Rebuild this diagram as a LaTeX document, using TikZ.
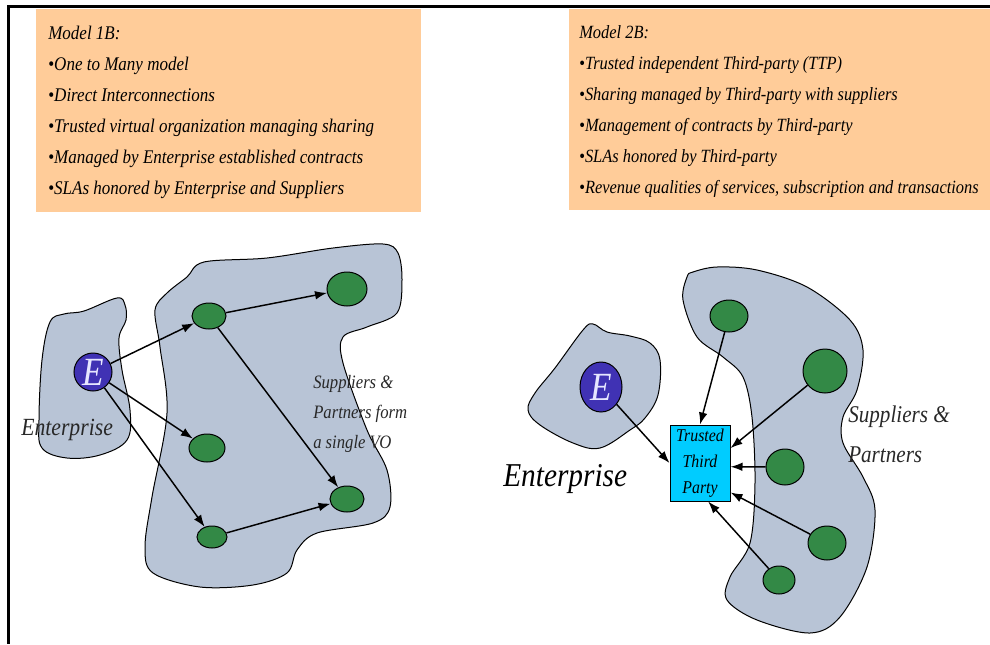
\documentclass[tikz,border=0pt]{standalone}
\usepackage{fontspec}
\setmainfont{Liberation Serif}[FakeStretch=0.88]
\usetikzlibrary{shapes.geometric,arrows.meta}

\begin{document}
\begin{tikzpicture}[x=0.75pt,y=0.75pt,yscale=-1,xscale=1,
  notebox/.style={fill={rgb, 255:red, 255; green, 204; blue, 153 }},
  notetext/.style={anchor=north west, inner sep=0pt, align=left, font=\fontsize{14.5}{23.25}\selectfont\itshape},
  blob/.style={draw, line width=0.75pt, fill={rgb, 255:red, 184; green, 196; blue, 214 }},
  member/.style={ellipse, draw, line width=0.75pt, fill={rgb, 255:red, 51; green, 137; blue, 70 }, inner sep=0pt},
  entnode/.style={ellipse, draw, line width=0.75pt, fill={rgb, 255:red, 64; green, 50; blue, 180 }, inner sep=0pt,
    text={rgb, 255:red, 230; green, 230; blue, 255 }, font=\fontsize{30}{30}\selectfont\itshape},
  ttpbox/.style={rectangle, draw, line width=0.75pt, fill={rgb, 255:red, 0; green, 204; blue, 255 }, inner sep=0pt,
    minimum width=45pt, minimum height=57pt, align=center, font=\fontsize{13.5}{19.5}\selectfont\itshape},
  grouptext/.style={anchor=base west, inner sep=0pt, align=left, text={rgb, 255:red, 40; green, 40; blue, 40 }},
  linkarrow/.style={line width=1.1pt, -{Latex[length=9pt,width=6.5pt]}}
]
        \useasboundingbox (0,0) rectangle (990,644);

        %Shape: Frame lines
        \draw [line width=2pt] (990,6.5) -- (8.7,6.5) -- (8.7,644) ;

        %Shape: Rectangle (notes)
        \fill [notebox] (36,9) rectangle (421,212) ;
        \fill [notebox] (569,9) rectangle (990,210) ;

        % Text Node
        \node [notetext] (note1) at (48,26) {Model 1B:\\
          {\upshape\textbullet}One to Many model\\
          {\upshape\textbullet}Direct Interconnections\\
          {\upshape\textbullet}Trusted virtual organization managing sharing\\
          {\upshape\textbullet}Managed by Enterprise established contracts\\
          {\upshape\textbullet}SLAs honored by Enterprise and Suppliers};
        % Text Node
        \node [notetext, font=\fontsize{14}{23.25}\selectfont\itshape] (note2) at (579,25) {Model 2B:\\
          {\upshape\textbullet}Trusted independent Third-party (TTP)\\
          {\upshape\textbullet}Sharing managed by Third-party with suppliers\\
          {\upshape\textbullet}Management of contracts by Third-party\\
          {\upshape\textbullet}SLAs honored by Third-party\\
          {\upshape\textbullet}Revenue qualities of services, subscription and transactions};

        %Shape: Blob (enterprise, model 1B)
        \draw [blob] plot [smooth cycle, tension=0.6] coordinates {(50,322) (64,314) (84,311) (117,298) (125,305) (126,320) (119,338) (122,370) (130,410) (127,440) (100,455) (67,458) (42,448) (39,420) (42,360)} ;
        %Shape: Blob (suppliers, model 1B)
        \draw [blob] plot [smooth cycle, tension=0.55] coordinates {(204,262) (267,258) (333,248) (383,244) (398,253) (402,280) (397,313) (367,327) (343,337) (343,363) (367,430) (387,470) (390,507) (373,523) (317,533) (297,550) (287,573) (253,585) (200,587) (153,573) (145,547) (152,497) (167,413) (160,347) (155,310) (167,293) (187,277)} ;

        %Shape: Blob (enterprise, model 2B)
        \draw [blob] plot [smooth cycle, tension=0.6] coordinates {(583,330) (593,324) (607,332) (630,336) (650,343) (660,360) (658,395) (645,418) (630,430) (600,448) (573,443) (540,425) (528,410) (535,393) (555,368)} ;
        %Shape: Blob (suppliers, model 2B)
        \draw [blob] plot [smooth cycle, tension=0.55] coordinates {(687,277) (683,300) (697,337) (723,357) (743,377) (752,417) (755,483) (750,543) (730,577) (727,600) (757,620) (810,633) (840,617) (867,567) (875,510) (863,477) (843,443) (843,417) (857,390) (863,350) (850,320) (807,287) (757,270) (717,267) (693,272)} ;

        %Shape: Ellipse (model 1B)
        \node [entnode, minimum width=28.5pt, minimum height=28.5pt] (ent1) at (93,372) {E};
        \node [member, minimum width=25.5pt, minimum height=19.5pt] (a1) at (209,316) {};
        \node [member, minimum width=30pt, minimum height=25.5pt] (a2) at (347,289) {};
        \node [member, minimum width=27pt, minimum height=21pt] (a3) at (207,448) {};
        \node [member, minimum width=25.5pt, minimum height=19.5pt] (a4) at (347,499) {};
        \node [member, minimum width=22.5pt, minimum height=16.5pt] (a5) at (212,537) {};

        %Shape: Ellipse (model 2B)
        \node [entnode, minimum width=31.5pt, minimum height=37.5pt] (ent2) at (601,387) {E};
        \node [member, minimum width=28.5pt, minimum height=24pt] (b1) at (729,316) {};
        \node [member, minimum width=33pt, minimum height=33pt] (b2) at (825,371) {};
        \node [member, minimum width=28.5pt, minimum height=27pt] (b3) at (785,467) {};
        \node [member, minimum width=28.5pt, minimum height=25.5pt] (b4) at (827,543) {};
        \node [member, minimum width=24pt, minimum height=21pt] (b5) at (779,580) {};

        %Shape: Rectangle (third party)
        \node [ttpbox] (ttp) at (700,463) {Trusted\\Third\\Party};

        %Straight Lines (model 1B)
        \draw [linkarrow] (ent1) -- (a1) ;
        \draw [linkarrow] (ent1) -- (a3) ;
        \draw [linkarrow] (ent1) -- (a5) ;
        \draw [linkarrow] (a1) -- (a2) ;
        \draw [linkarrow] (a1) -- (a4) ;
        \draw [linkarrow] (a5) -- (a4) ;

        %Straight Lines (model 2B)
        \draw [linkarrow] (ent2) -- (ttp.west) ;
        \draw [linkarrow] (b1) -- (ttp.north) ;
        \draw [linkarrow] (b2) -- (ttp.26) ;
        \draw [linkarrow] (b3) -- (ttp.-7) ;
        \draw [linkarrow] (b4) -- (ttp.-44) ;
        \draw [linkarrow] (b5) -- (ttp.-78) ;

        % Text Node
        \node [grouptext, font=\fontsize{18.5}{18.5}\selectfont\itshape] (entlabel1) at (21,435) {Enterprise};
        % Text Node
        \node [grouptext, font=\fontsize{14.2}{22.5}\selectfont\itshape] (grouplabel1) at (313,448) {Suppliers \&\\Partners form\\a single VO};
        % Text Node
        \node [grouptext, text=black, font=\fontsize{25}{25}\selectfont\itshape] (entlabel2) at (503,486) {Enterprise};
        % Text Node
        \node [grouptext, font=\fontsize{18}{30}\selectfont\itshape] (grouplabel2) at (848,462) {Suppliers \&\\Partners};

\end{tikzpicture}
\end{document}
